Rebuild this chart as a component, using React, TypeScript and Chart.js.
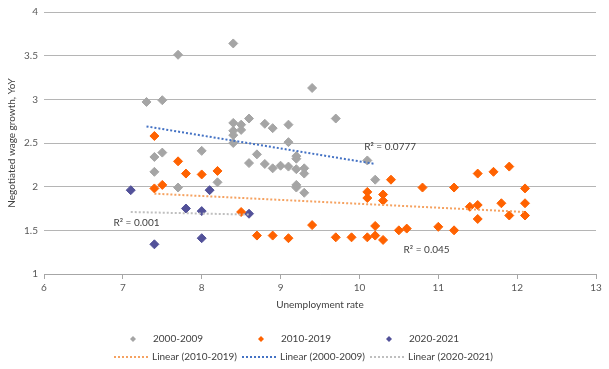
import React, { useEffect, useRef } from "react";
import { Chart, registerables } from "chart.js";

Chart.register(...registerables);

// ---- Data ----
const grayX = [7.3, 7.5, 7.7, 8.4, 9.4, 9.7, 8.6, 8.4, 8.5, 8.5, 8.4, 8.4, 8.4, 8.8, 8.9, 9.1, 9.1, 8.7, 8.6, 8.8, 8.9, 9.0, 9.1, 9.2, 9.2, 9.2, 9.3, 9.3, 9.2, 9.2, 9.3, 10.1, 10.2, 7.4, 7.5, 8.0, 7.4, 7.7, 8.2];
const grayY = [2.97, 2.99, 3.51, 3.64, 3.13, 2.78, 2.78, 2.73, 2.71, 2.65, 2.64, 2.59, 2.5, 2.72, 2.67, 2.71, 2.51, 2.37, 2.27, 2.26, 2.21, 2.24, 2.23, 2.35, 2.32, 2.2, 2.21, 2.15, 2.02, 1.99, 1.93, 2.3, 2.08, 2.34, 2.39, 2.41, 2.17, 1.99, 2.05];

const orangeX = [7.4, 7.7, 7.8, 8.0, 8.2, 7.4, 7.5, 8.5, 8.7, 8.9, 9.1, 9.4, 9.7, 9.9, 10.1, 10.2, 10.2, 10.3, 10.5, 10.6, 11.0, 11.2, 10.4, 10.8, 11.2, 10.1, 10.1, 10.3, 10.3, 11.4, 11.5, 11.7, 11.9, 12.1, 11.5, 11.8, 12.1, 11.5, 11.9, 12.1];
const orangeY = [2.58, 2.29, 2.15, 2.14, 2.18, 1.98, 2.02, 1.71, 1.44, 1.44, 1.41, 1.56, 1.42, 1.42, 1.42, 1.55, 1.44, 1.39, 1.5, 1.52, 1.54, 1.5, 2.08, 1.99, 1.99, 1.94, 1.87, 1.91, 1.84, 1.77, 2.15, 2.17, 2.23, 1.98, 1.79, 1.81, 1.81, 1.63, 1.67, 1.67];

const purpleX = [7.1, 8.1, 7.8, 8.0, 7.4, 8.0, 8.6];
const purpleY = [1.96, 1.96, 1.75, 1.72, 1.34, 1.41, 1.69];

// Trendline end points
const trend2010X = [7.4, 12.1];
const trend2010Y = [1.92, 1.71];
const trend2000X = [7.3, 10.2];
const trend2000Y = [2.69, 2.26];
const trend2020X = [7.1, 8.6];
const trend2020Y = [1.71, 1.68];

// R² annotations (text, x value, y value)
const r2Texts = ["R² = 0.0777", "R² = 0.001", "R² = 0.045"];
const r2X = [10.06, 6.88, 10.56];
const r2Y = [2.455, 1.59, 1.28];

const xTicksMin = 6;
const xTicksMax = 13;
const yTicksMin = 1;
const yTicksMax = 4;

const seriesLabels = ["2000-2009", "2010-2019", "2020-2021"];
const trendLabels = ["Linear (2010-2019)", "Linear (2000-2009)", "Linear (2020-2021)"];

const GRAY = "#A5A5A5";
const ORANGE = "#FF6200";
const PURPLE = "#525199";
const T_ORANGE = "#F5A261";
const T_BLUE = "#4472C4";
const T_GRAY = "#BFBFBF";
const FONT = "Lato, 'DejaVu Sans', sans-serif";
const TEXT = "#404040";

const zip = (xs: number[], ys: number[]) => xs.map((x, i) => ({ x, y: ys[i] }));

const overlayPlugin = {
  id: "overlay",
  afterDraw(chart: any) {
    const ctx = chart.ctx;
    const xs = chart.scales.x;
    const ys = chart.scales.y;
    ctx.save();
    // R² labels
    ctx.font = `10px ${FONT}`;
    ctx.fillStyle = TEXT;
    ctx.textAlign = "left";
    ctx.textBaseline = "middle";
    r2Texts.forEach((t, i) => {
      ctx.fillText(t, xs.getPixelForValue(r2X[i]), ys.getPixelForValue(r2Y[i]));
    });

    // Legend
    const colW = 128;
    const x0 = 114;
    const row1 = 339;
    const row2 = 357;
    const markerColors = [GRAY, ORANGE, PURPLE];
    const lineColors = [T_ORANGE, T_BLUE, T_GRAY];
    for (let i = 0; i < 3; i++) {
      const cx = x0 + i * colW;
      // marker
      const mx = cx + 19;
      const r = 3;
      ctx.fillStyle = markerColors[i];
      ctx.beginPath();
      ctx.moveTo(mx, row1 - r);
      ctx.lineTo(mx + r, row1);
      ctx.lineTo(mx, row1 + r);
      ctx.lineTo(mx - r, row1);
      ctx.closePath();
      ctx.fill();
      ctx.fillStyle = TEXT;
      ctx.fillText(seriesLabels[i], cx + 39, row1);
      // line sample
      ctx.strokeStyle = lineColors[i];
      ctx.lineWidth = 2;
      ctx.setLineDash([2, 2]);
      ctx.beginPath();
      ctx.moveTo(cx, row2);
      ctx.lineTo(cx + 35, row2);
      ctx.stroke();
      ctx.setLineDash([]);
      ctx.fillStyle = TEXT;
      ctx.fillText(trendLabels[i], cx + 38, row2);
    }
    ctx.restore();
  },
};

export default function App() {
  const ref = useRef<HTMLCanvasElement | null>(null);
  useEffect(() => {
    if (!ref.current) return;
    const pointDs = (label: string, xs: number[], ys: number[], color: string) => ({
      label,
      data: zip(xs, ys),
      showLine: false,
      pointStyle: "rectRot",
      pointRadius: 4.5,
      pointBorderWidth: 1,
      backgroundColor: color,
      borderColor: color,
      order: 2,
    });
    const lineDs = (label: string, xs: number[], ys: number[], color: string) => ({
      label,
      data: zip(xs, ys),
      showLine: true,
      pointRadius: 0,
      borderColor: color,
      borderWidth: 2,
      borderDash: [2, 2],
      fill: false,
      order: 1,
    });
    const chart = new Chart(ref.current, {
      type: "scatter",
      data: {
        datasets: [
          pointDs(seriesLabels[0], grayX, grayY, GRAY),
          pointDs(seriesLabels[1], orangeX, orangeY, ORANGE),
          pointDs(seriesLabels[2], purpleX, purpleY, PURPLE),
          lineDs(trendLabels[0], trend2010X, trend2010Y, T_ORANGE),
          lineDs(trendLabels[1], trend2000X, trend2000Y, T_BLUE),
          lineDs(trendLabels[2], trend2020X, trend2020Y, T_GRAY),
        ] as any,
      },
      options: {
        animation: false,
        responsive: false,
        maintainAspectRatio: false,
        layout: { padding: { left: 0, top: 8, right: 13, bottom: 55 } },
        plugins: {
          legend: { display: false },
          tooltip: { enabled: false },
        },
        scales: {
          x: {
            type: "linear",
            min: xTicksMin,
            max: xTicksMax,
            ticks: {
              stepSize: 1,
              font: { family: FONT, size: 10 },
              color: "#595959",
              padding: 3,
            },
            grid: {
              drawOnChartArea: false,
              drawTicks: true,
              tickLength: 5,
              color: "#A6A6A6",
            },
            border: { display: true, color: "#A6A6A6" },
            title: {
              display: true,
              text: "Unemployment rate",
              font: { family: FONT, size: 10 },
              color: TEXT,
              padding: { top: 0, bottom: 3 },
            },
            afterFit: (s: any) => {
              s.height = 40;
            },
          },
          y: {
            type: "linear",
            min: yTicksMin,
            max: yTicksMax,
            ticks: {
              stepSize: 0.5,
              font: { family: FONT, size: 10 },
              color: "#595959",
              padding: 6,
              callback: (v: any) => String(v),
            },
            grid: {
              drawTicks: false,
              color: "#B5B5B5",
            },
            border: { display: false },
            title: {
              display: true,
              text: "Negotiated wage growth, YoY",
              font: { family: FONT, size: 10 },
              color: TEXT,
              padding: { top: 6, bottom: 0 },
            },
            afterFit: (s: any) => {
              s.width = 44;
            },
          },
        },
      } as any,
      plugins: [overlayPlugin],
    });
    return () => chart.destroy();
  }, []);
  return (
    <div style={{ position: "fixed", left: 0, top: 0, width: 609, height: 369, background: "#fff" }}>
      <canvas ref={ref} width={609} height={369} style={{ width: 609, height: 369, display: "block" }} />
    </div>
  );
}
